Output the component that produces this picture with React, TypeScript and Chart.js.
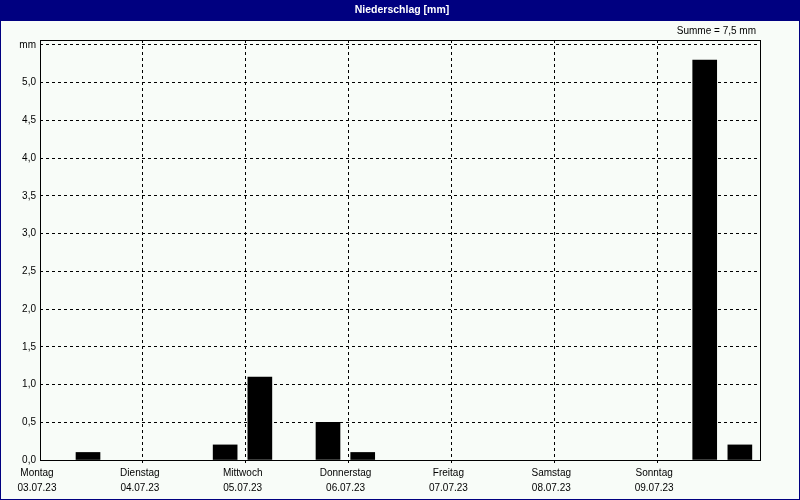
import React, { useEffect, useRef } from "react";
import { Chart, registerables } from "chart.js";

Chart.register(...registerables);

const titleText = "Niederschlag [mm]";
const sumText = "Summe = 7,5 mm";
const dayNames = ["Montag", "Dienstag", "Mittwoch", "Donnerstag", "Freitag", "Samstag", "Sonntag"];
const dayDates = ["03.07.23", "04.07.23", "05.07.23", "06.07.23", "07.07.23", "08.07.23", "09.07.23"];
// hours since Monday 00:00
const barHours = [11.2, 43.2, 51.3, 67.2, 75.3, 155.1, 163.3];
const barValues = [0.1, 0.2, 1.1, 0.5, 0.1, 5.3, 0.2];
const yTickValues = [0, 0.5, 1, 1.5, 2, 2.5, 3, 3.5, 4, 4.5, 5, 5.5];
const unitLabel = "mm";

const FONT = "'Liberation Sans', Arial, sans-serif";
const NAVY = "#000080";
const BG = "#f8fcf8";

const framePlugin = {
  id: "frame",
  beforeDraw(chart: any) {
    const { ctx, width, height } = chart;
    ctx.save();
    ctx.fillStyle = BG;
    ctx.fillRect(0, 0, width, height);
    ctx.fillStyle = NAVY;
    ctx.fillRect(0, 0, width, 21);
    ctx.strokeStyle = NAVY;
    ctx.lineWidth = 1;
    ctx.strokeRect(0.5, 0.5, width - 1, height - 1);
    ctx.fillStyle = "#ffffff";
    ctx.font = `bold 10.5px ${FONT}`;
    ctx.textAlign = "center";
    ctx.textBaseline = "middle";
    ctx.fillText(titleText, 402, 10.5);
    ctx.fillStyle = "#000000";
    ctx.font = `10px ${FONT}`;
    ctx.textAlign = "right";
    ctx.fillText(sumText, 756, 31);
    ctx.restore();
  },
  afterDraw(chart: any) {
    const { ctx, chartArea } = chart;
    ctx.save();
    ctx.strokeStyle = "#000000";
    ctx.lineWidth = 1;
    ctx.setLineDash([]);
    ctx.strokeRect(
      chartArea.left + 0.5,
      chartArea.top + 0.5,
      chartArea.right - chartArea.left,
      chartArea.bottom - chartArea.top
    );
    ctx.restore();
  },
};

export default function App() {
  const ref = useRef<HTMLCanvasElement>(null);
  useEffect(() => {
    if (!ref.current) return;
    const chart = new Chart(ref.current, {
      type: "bar",
      data: {
        datasets: [
          {
            data: barHours.map((h, i) => ({ x: h, y: barValues[i] })),
            backgroundColor: "#000000",
            borderWidth: 0,
            barThickness: 24,
          },
        ],
      },
      options: {
        responsive: false,
        animation: false,
        layout: { padding: { left: 0, top: 40, right: 40, bottom: 0 } },
        plugins: {
          legend: { display: false },
          tooltip: { enabled: false },
          title: { display: false },
        },
        scales: {
          x: {
            type: "linear",
            offset: false,
            min: 0,
            max: 168,
            afterBuildTicks: (scale: any) => {
              scale.ticks = dayNames.map((_, i) => ({ value: i * 24 })).concat([{ value: 168 }]);
            },
            afterFit: (scale: any) => {
              scale.height = 40;
            },
            grid: {
              offset: false,
              color: "#000000",
              lineWidth: 1,
              drawTicks: true,
              tickLength: 3,
              tickColor: (c: any) =>
                c.tick && (c.tick.value === 0 || c.tick.value === 168) ? "rgba(0,0,0,0)" : "#000000",
            },
            border: { display: false, dash: [3, 3] },
            ticks: {
              color: "#000000",
              font: { family: FONT, size: 10, lineHeight: "15px" },
              padding: 3,
              labelOffset: -3,
              maxRotation: 0,
              autoSkip: false,
              callback: (v: any) => {
                const i = Math.round(Number(v) / 24);
                if (i >= dayNames.length) return "";
                return [dayNames[i], dayDates[i]];
              },
            },
          },
          y: {
            min: 0,
            max: 5.566,
            afterBuildTicks: (scale: any) => {
              scale.ticks = yTickValues.map((v) => ({ value: v }));
            },
            afterFit: (scale: any) => {
              scale.width = 40;
            },
            grid: { color: "#000000", lineWidth: 1, drawTicks: false },
            border: { display: false, dash: [3, 3] },
            ticks: {
              color: "#000000",
              font: { family: FONT, size: 10 },
              padding: 4,
              callback: (v: any) => {
                const n = Number(v);
                if (Math.abs(n - 5.5) < 1e-6) return unitLabel;
                return n.toFixed(1).replace(".", ",");
              },
            },
          },
        },
      },
      plugins: [framePlugin],
    } as any);
    return () => chart.destroy();
  }, []);
  return (
    <div style={{ position: "absolute", left: 0, top: 0, width: 800, height: 500 }}>
      <canvas ref={ref} width={800} height={500} style={{ display: "block" }} />
    </div>
  );
}
